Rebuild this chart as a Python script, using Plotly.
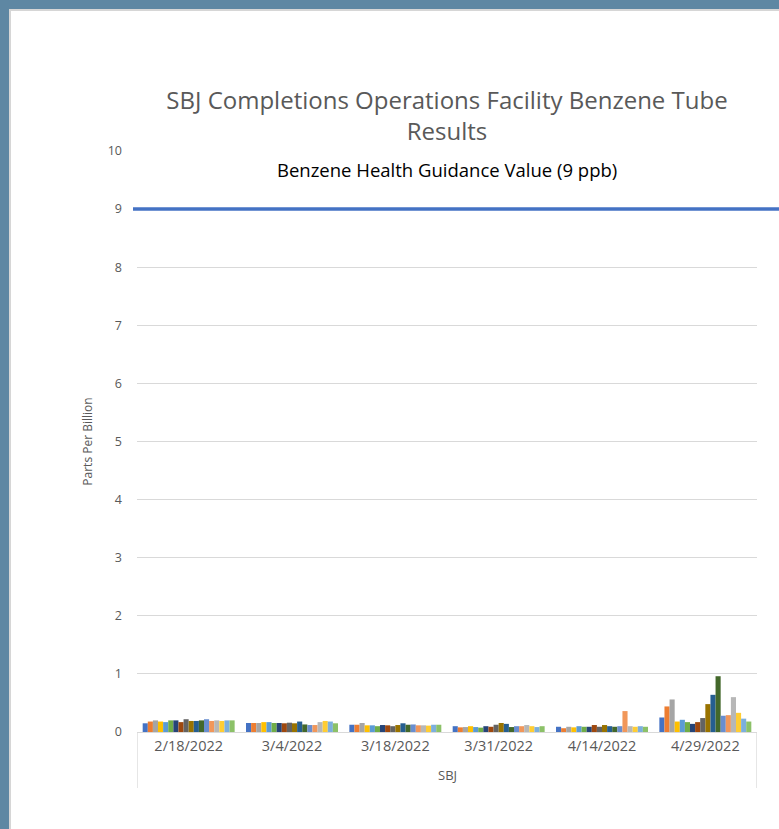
import plotly.graph_objects as go

dates = ["2/18/2022", "3/4/2022", "3/18/2022", "3/31/2022", "4/14/2022", "4/29/2022"]
series_names = [f"Tube {i}" for i in range(1, 19)]

# benzene results (ppb) per sampling date, one value per tube
d_0218 = [0.15, 0.18, 0.20, 0.18, 0.17, 0.20, 0.20, 0.17, 0.22, 0.19, 0.19, 0.20, 0.22, 0.19, 0.20, 0.19, 0.20, 0.20]
d_0304 = [0.155, 0.155, 0.155, 0.17, 0.17, 0.155, 0.155, 0.15, 0.16, 0.15, 0.18, 0.13, 0.12, 0.12, 0.17, 0.19, 0.18, 0.15]
d_0318 = [0.125, 0.125, 0.155, 0.115, 0.115, 0.10, 0.12, 0.115, 0.10, 0.12, 0.15, 0.125, 0.13, 0.115, 0.115, 0.11, 0.125, 0.125]
d_0331 = [0.10, 0.08, 0.085, 0.10, 0.085, 0.075, 0.10, 0.09, 0.125, 0.155, 0.14, 0.085, 0.10, 0.10, 0.12, 0.10, 0.085, 0.10]
d_0414 = [0.09, 0.065, 0.09, 0.08, 0.10, 0.09, 0.09, 0.12, 0.09, 0.12, 0.10, 0.09, 0.10, 0.36, 0.10, 0.09, 0.10, 0.09]
d_0429 = [0.25, 0.44, 0.56, 0.18, 0.21, 0.17, 0.14, 0.17, 0.24, 0.48, 0.64, 0.96, 0.28, 0.29, 0.60, 0.33, 0.23, 0.18]

guidance_value = 9
guidance_label = "Benzene Health Guidance Value (9 ppb)"
y_ticks = list(range(0, 11))

colors = ["#4472C4", "#ED7D31", "#A5A5A5", "#FFC000", "#5B9BD5", "#70AD47",
          "#264478", "#9E480E", "#636363", "#997300", "#255E91", "#43682B",
          "#698ED0", "#F1975A", "#B7B7B7", "#FFCD33", "#7CAFDD", "#8CC168"]

by_date = [d_0218, d_0304, d_0318, d_0331, d_0414, d_0429]

fig = go.Figure()
for i, name in enumerate(series_names):
    fig.add_trace(go.Bar(
        x=dates, y=[d[i] for d in by_date], name=name,
        marker=dict(color=colors[i], line=dict(width=0)),
    ))

FONT = "Open Sans"
GREY = "#595959"
PW, PH = 620, 581  # plot area size in px

def px_x(px):
    return (px - 137) / PW

def px_y(py):
    return (732 - py) / PH

# page frame
fig.add_shape(type="rect", xref="paper", yref="paper", x0=px_x(10), x1=px_x(900), y0=px_y(900), y1=px_y(10),
              fillcolor="white", line=dict(color="#d6d6d6", width=2), layer="below")

# guidance line
fig.add_shape(type="line", xref="paper", yref="y", x0=px_x(133), x1=px_x(790),
              y0=guidance_value, y1=guidance_value,
              line=dict(color="#4472C4", width=3.5), layer="above")

# category-axis end ticks (multi-level look)
for xv in [-0.5, len(dates) - 0.5]:
    fig.add_shape(type="line", xref="x", yref="paper", x0=xv, x1=xv, y0=0, y1=px_y(788),
                  line=dict(color="#d9d9d9", width=1.3))

fig.add_annotation(text=guidance_label, xref="paper", yref="paper", x=0.5, y=px_y(170),
                   yanchor="middle", showarrow=False, font=dict(family=FONT, size=18.5, color="black"))
fig.add_annotation(text="SBJ", xref="paper", yref="paper", x=0.5, y=px_y(775),
                   yanchor="middle", showarrow=False, font=dict(family=FONT, size=13, color=GREY))

fig.update_layout(
    width=779, height=829,
    margin=dict(l=137, r=22, t=151, b=97),
    paper_bgcolor="#5E87A3",
    plot_bgcolor="rgba(0,0,0,0)",
    barmode="group", bargap=0.11, bargroupgap=0,
    showlegend=False,
    title=dict(text="SBJ Completions Operations Facility Benzene Tube<br>Results",
               x=0.5, xanchor="center", xref="paper", y=(829 - 109) / 829, yanchor="middle",
               font=dict(family=FONT, size=24, color=GREY)),
    xaxis=dict(type="category", range=[-0.5, len(dates) - 0.5], showline=True,
               linecolor="#d9d9d9", linewidth=1.3, showgrid=False, ticks="",
               tickfont=dict(family=FONT, size=14.5, color=GREY)),
    yaxis=dict(range=[0, 10], tickvals=y_ticks, showgrid=True, gridcolor="#d9d9d9",
               gridwidth=1, zeroline=False, showline=False, ticks="", ticklabelstandoff=14,
               tickfont=dict(family=FONT, size=12.5, color=GREY),
               title=dict(text="Parts Per Billion", standoff=12,
                          font=dict(family=FONT, size=12, color=GREY))),
)

fig.write_html("out.html", config={"displayModeBar": False},
               post_script="document.body.style.margin='0';document.body.style.background='#5E87A3';")
